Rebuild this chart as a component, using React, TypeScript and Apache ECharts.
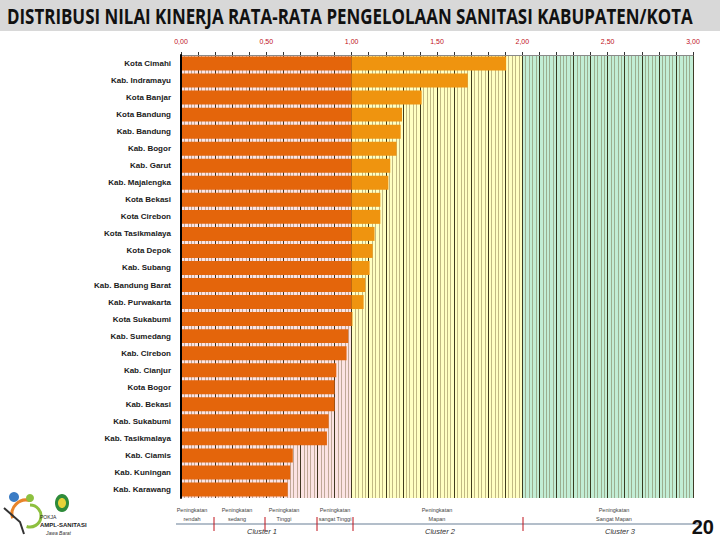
import React, { useEffect, useRef } from "react";
import * as echarts from "echarts";

const categories = [
  "Kota Cimahi", "Kab. Indramayu", "Kota Banjar", "Kota Bandung", "Kab. Bandung",
  "Kab. Bogor", "Kab. Garut", "Kab. Majalengka", "Kota Bekasi", "Kota Cirebon",
  "Kota Tasikmalaya", "Kota Depok", "Kab. Subang", "Kab. Bandung Barat", "Kab. Purwakarta",
  "Kota Sukabumi", "Kab. Sumedang", "Kab. Cirebon", "Kab. Cianjur", "Kota Bogor",
  "Kab. Bekasi", "Kab. Sukabumi", "Kab. Tasikmalaya", "Kab. Ciamis", "Kab. Kuningan",
  "Kab. Karawang",
];
const values = [
  1.905, 1.68, 1.41, 1.295, 1.287, 1.263, 1.226, 1.215, 1.168, 1.168,
  1.134, 1.123, 1.105, 1.08, 1.07, 1.005, 0.98, 0.97, 0.91, 0.9,
  0.9, 0.865, 0.855, 0.655, 0.64, 0.625,
];
const splitValue = 1.0;
const bandFrom = [0, 1.0, 2.0];
const bandTo = [1.0, 2.0, 3.0];
const bandColors = ["#FCE3E3", "#FFFFC2", "#C2EDD5"];
const levelLabels = [
  ["Peningkatan", "rendah"],
  ["Peningkatan", "sedang"],
  ["Peningkatan", "Tinggi"],
  ["Peningkatan", "sangat Tinggi"],
  ["Peningkatan", "Mapan"],
  ["Peningkatan", "Sangat Mapan"],
];
const clusterLabels = ["Cluster 1", "Cluster 2", "Cluster 3"];
const TITLE = "DISTRIBUSI NILAI KINERJA RATA-RATA PENGELOLAAN SANITASI KABUPATEN/KOTA";

function measure(text: string, font: string): number {
  try {
    const c = document.createElement("canvas");
    const ctx = c.getContext("2d");
    if (!ctx) return 0;
    ctx.font = font;
    return ctx.measureText(text).width;
  } catch (e) {
    return 0;
  }
}

export default function App() {
  const ref = useRef<HTMLDivElement>(null);
  useEffect(() => {
    if (!ref.current) return;
    const chart = echarts.init(ref.current, undefined, { renderer: "svg" });

    const titleSize = 21;
    const titleFont = `bold ${titleSize}px "Open Sans"`;
    const w = measure(TITLE, titleFont);
    const titleScale = w > 0 ? 686 / w : 0.74;

    const darkPart = values.map((v) => Math.min(v, splitValue));
    const lightPart = values.map((v) => Math.max(v - splitValue, 0));

    const levelX = [192, 237, 284, 335, 437, 614];
    const clusterX = [262, 440, 620];
    const tickX = [214, 265, 317, 353, 523];

    const graphics: any[] = [
      { type: "rect", shape: { x: 0, y: 0, width: 720, height: 31 }, style: { fill: "#D8D8D8" }, z: 0 },
      {
        type: "text",
        x: 7,
        y: 16,
        scaleX: titleScale,
        style: {
          text: TITLE,
          font: titleFont,
          fill: "#111",
          verticalAlign: "middle",
        },
        z: 1,
      },
      { type: "line", shape: { x1: 176, y1: 524, x2: 700, y2: 524 }, style: { stroke: "#9AA8B8", lineWidth: 1.5 } },
      ...tickX.map((x) => ({
        type: "line",
        shape: { x1: x, y1: 517, x2: x, y2: 531 },
        style: { stroke: "#C0101A", lineWidth: 1 },
      })),
      ...levelLabels.map((l, i) => ({
        type: "text",
        x: levelX[i],
        y: 514,
        style: {
          text: l.join("\n"),
          fontSize: 5.5,
          lineHeight: 9,
          fontFamily: "Liberation Sans",
          fill: "#444",
          align: "center",
          verticalAlign: "middle",
        },
      })),
      ...clusterLabels.map((c, i) => ({
        type: "text",
        x: clusterX[i],
        y: 531,
        style: {
          text: c,
          fontSize: 7.5,
          fontStyle: "italic",
          fontFamily: "Liberation Sans",
          fill: "#333",
          align: "center",
          verticalAlign: "middle",
        },
      })),
      {
        type: "text",
        x: 714,
        y: 527,
        style: {
          text: "20",
          fontSize: 20,
          fontWeight: "bold",
          fontFamily: "Liberation Sans",
          fill: "#111",
          align: "right",
          verticalAlign: "middle",
        },
      },
      { type: "circle", shape: { cx: 14, cy: 497, r: 5 }, style: { fill: "#3B7CC4" } },
      {
        type: "arc",
        shape: { cx: 26, cy: 514, r: 14, startAngle: Math.PI * 0.9, endAngle: Math.PI * 1.6 },
        style: { stroke: "#E8842A", lineWidth: 3, fill: "none" },
      },
      {
        type: "arc",
        shape: { cx: 30, cy: 516, r: 11, startAngle: Math.PI * 1.5, endAngle: Math.PI * 2.6 },
        style: { stroke: "#8DC03F", lineWidth: 3, fill: "none" },
      },
      { type: "circle", shape: { cx: 30, cy: 498, r: 4 }, style: { fill: "#8DC03F" } },
      {
        type: "polyline",
        shape: { points: [[4, 508], [20, 522], [24, 534]] },
        style: { stroke: "#333", lineWidth: 2, fill: "none" },
      },
      { type: "ellipse", shape: { cx: 62, cy: 503, rx: 7, ry: 9 }, style: { fill: "#2E8B3A" } },
      { type: "ellipse", shape: { cx: 62, cy: 503, rx: 4, ry: 5 }, style: { fill: "#E6D23A" } },
      {
        type: "text",
        x: 40,
        y: 517,
        style: { text: "POKJA", fontSize: 5, fontFamily: "Liberation Sans", fill: "#222", verticalAlign: "middle" },
      },
      {
        type: "text",
        x: 40,
        y: 525,
        style: {
          text: "AMPL-SANITASI",
          fontSize: 6,
          fontWeight: "bold",
          fontFamily: "Liberation Sans",
          fill: "#222",
          verticalAlign: "middle",
        },
      },
      {
        type: "text",
        x: 46,
        y: 533,
        style: { text: "Jawa Barat", fontSize: 5, fontStyle: "italic", fontFamily: "Liberation Sans", fill: "#333", verticalAlign: "middle" },
      },
    ];

    chart.setOption({
      animation: false,
      backgroundColor: "#ffffff",
      grid: { left: 181, right: 27, top: 55, bottom: 42, containLabel: false },
      xAxis: {
        type: "value",
        position: "top",
        min: 0,
        max: 3,
        interval: 0.1,
        z: 1,
        axisLine: { show: true, lineStyle: { color: "#8A8A8A", width: 1 } },
        axisTick: { show: true, length: 3, lineStyle: { color: "#333" } },
        minorTick: { show: false, splitNumber: 5 },
        axisLabel: {
          margin: 10,
          fontSize: 7,
          fontFamily: "Liberation Sans",
          color: "#C0101A",
          formatter: (v: number) =>
            Math.abs(v * 2 - Math.round(v * 2)) < 1e-6 ? v.toFixed(2).replace(".", ",") : "",
        },
        splitLine: { show: true, lineStyle: { color: "rgba(30,25,0,0.85)", width: 1 } },
        minorSplitLine: { show: true, lineStyle: { color: "rgba(100,80,40,0.4)", width: 1 } },
      },
      yAxis: {
        type: "category",
        data: categories,
        inverse: true,
        z: 3,
        axisLine: { show: true, lineStyle: { color: "#000", width: 2 } },
        axisTick: { show: false },
        axisLabel: {
          margin: 10,
          fontSize: 8,
          fontWeight: "bold",
          fontFamily: "Liberation Sans",
          color: "#1A1A1A",
        },
        splitLine: { show: false },
      },
      series: [
        {
          type: "line",
          name: "bands",
          data: [],
          z: 0,
          zlevel: 0,
          silent: true,
          markArea: {
            silent: true,
            z: 0,
            itemStyle: { opacity: 1 },
            data: bandFrom.map((f, i) => [
              { xAxis: f, itemStyle: { color: bandColors[i], opacity: 1 } },
              { xAxis: bandTo[i] },
            ]),
          },
        },
        {
          type: "bar",
          name: "dark",
          stack: "total",
          data: darkPart,
          z: 2,
          barCategoryGap: "18%",
          itemStyle: { color: "#E4650B" },
        },
        {
          type: "bar",
          name: "light",
          stack: "total",
          data: lightPart,
          z: 2,
          itemStyle: { color: "#EF940F" },
        },
      ],
      graphic: graphics,
    });
    return () => chart.dispose();
  }, []);
  return (
    <div
      ref={ref}
      style={{ position: "fixed", left: 0, top: 0, width: 720, height: 540 }}
    />
  );
}
